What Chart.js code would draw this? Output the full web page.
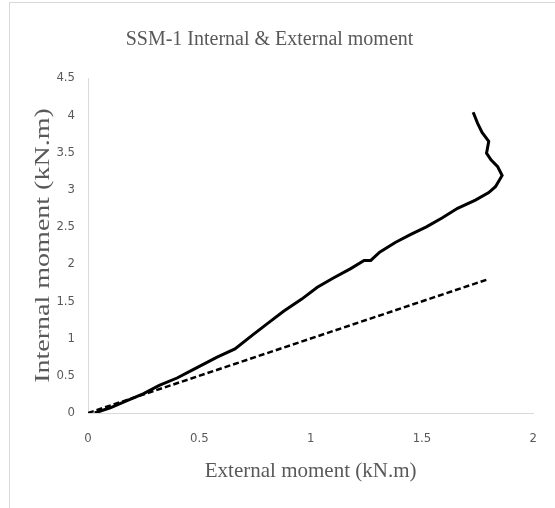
<!DOCTYPE html>
<html>
<head>
<meta charset="utf-8">
<script src="https://cdn.jsdelivr.net/npm/chart.js@4/dist/chart.umd.min.js"></script>
<style>
  body { margin: 0; background: #fff; }
  #frame { position: absolute; left: 9px; top: 2px; width: 600px; height: 600px;
           border-left: 1px solid #d9d9d9; border-top: 1px solid #d9d9d9; }
  #chart { position: absolute; left: 0; top: 0; }
</style>
</head>
<body>
<div id="frame"></div>
<canvas id="chart" width="555" height="508"></canvas>
<script>
// measured curve (External moment vs Internal moment)
var extMoment = [0.03, 0.10, 0.17, 0.25, 0.32, 0.40, 0.47, 0.58, 0.66, 0.74, 0.81, 0.88, 0.96, 1.03, 1.10, 1.18, 1.24, 1.27, 1.31, 1.38, 1.45, 1.52, 1.59, 1.66, 1.74, 1.80, 1.83, 1.86, 1.84, 1.81, 1.79, 1.80, 1.77, 1.75, 1.73];
var intMoment = [0.00, 0.07, 0.16, 0.26, 0.37, 0.47, 0.58, 0.75, 0.86, 1.05, 1.21, 1.37, 1.53, 1.69, 1.81, 1.94, 2.05, 2.05, 2.16, 2.29, 2.40, 2.50, 2.62, 2.75, 2.86, 2.96, 3.04, 3.19, 3.31, 3.40, 3.49, 3.65, 3.77, 3.89, 4.04];

// reference line (internal = external)
var refX = [0, 1.8];
var refY = [0, 1.8];

var chartTitle = "SSM-1 Internal & External moment";
var xTitle = "External moment (kN.m)";
var yTitle = "Internal moment (kN.m)";

function toPoints(xs, ys) {
    var pts = [];
    for (var i = 0; i < xs.length; i++) {
        pts.push({ x: xs[i], y: ys[i] });
    }
    return pts;
}

// y title is drawn stretched, like in the original picture
var yTitlePlugin = {
    id: "yTitle",
    afterDraw: function(chart) {
        var ctx = chart.ctx;
        var area = chart.chartArea;
        ctx.save();
        ctx.translate(44, (area.top + area.bottom) / 2);
        ctx.rotate(-Math.PI / 2);
        ctx.scale(1.4, 1);
        ctx.font = "20px 'Liberation Serif', 'Times New Roman', serif";
        ctx.fillStyle = "#595959";
        ctx.textAlign = "center";
        ctx.textBaseline = "middle";
        ctx.fillText(yTitle, 0, 0);
        ctx.restore();
    }
};

var tickFont = { family: "'Liberation Sans Narrow', 'DejaVu Sans Condensed', sans-serif", size: 13 };
var plainNum = function(v) { return String(Number(v.toFixed(2))); };

new Chart(document.getElementById("chart"), {
    type: "scatter",
    data: {
        datasets: [{
            data: toPoints(extMoment, intMoment),
            showLine: true,
            borderColor: "#000",
            borderWidth: 3,
            pointRadius: 0,
            tension: 0
        }, {
            data: toPoints(refX, refY),
            showLine: true,
            borderColor: "#000",
            borderWidth: 2.5,
            borderDash: [6, 3],
            pointRadius: 0
        }]
    },
    options: {
        responsive: false,
        animation: false,
        layout: { padding: { left: 0, right: 16, top: 0, bottom: 0 } },
        plugins: {
            legend: { display: false },
            tooltip: { enabled: false },
            title: {
                display: true,
                text: chartTitle,
                color: "#595959",
                font: { family: "'Liberation Serif', 'Times New Roman', serif", size: 20, weight: "normal" },
                padding: { top: 28, bottom: 26 }
            }
        },
        scales: {
            x: {
                type: "linear",
                min: 0,
                max: 2,
                ticks: { stepSize: 0.5, color: "#595959", font: tickFont, padding: 18, callback: plainNum },
                grid: { display: false, drawTicks: false, tickLength: 0 },
                border: { display: true, color: "#d9d9d9", width: 1 },
                title: {
                    display: true,
                    text: xTitle,
                    color: "#595959",
                    font: { family: "'Liberation Serif', 'Times New Roman', serif", size: 21 },
                    padding: { top: 0, bottom: 24 }
                },
                afterFit: function(scale) { scale.height = 95; }
            },
            y: {
                min: 0,
                max: 4.5,
                ticks: { stepSize: 0.5, color: "#595959", font: tickFont, padding: 13, callback: plainNum },
                grid: { display: false, drawTicks: false, tickLength: 0 },
                border: { display: true, color: "#d9d9d9", width: 1 },
                afterFit: function(scale) { scale.width = 88; }
            }
        }
    },
    plugins: [yTitlePlugin]
});
</script>
</body>
</html>
